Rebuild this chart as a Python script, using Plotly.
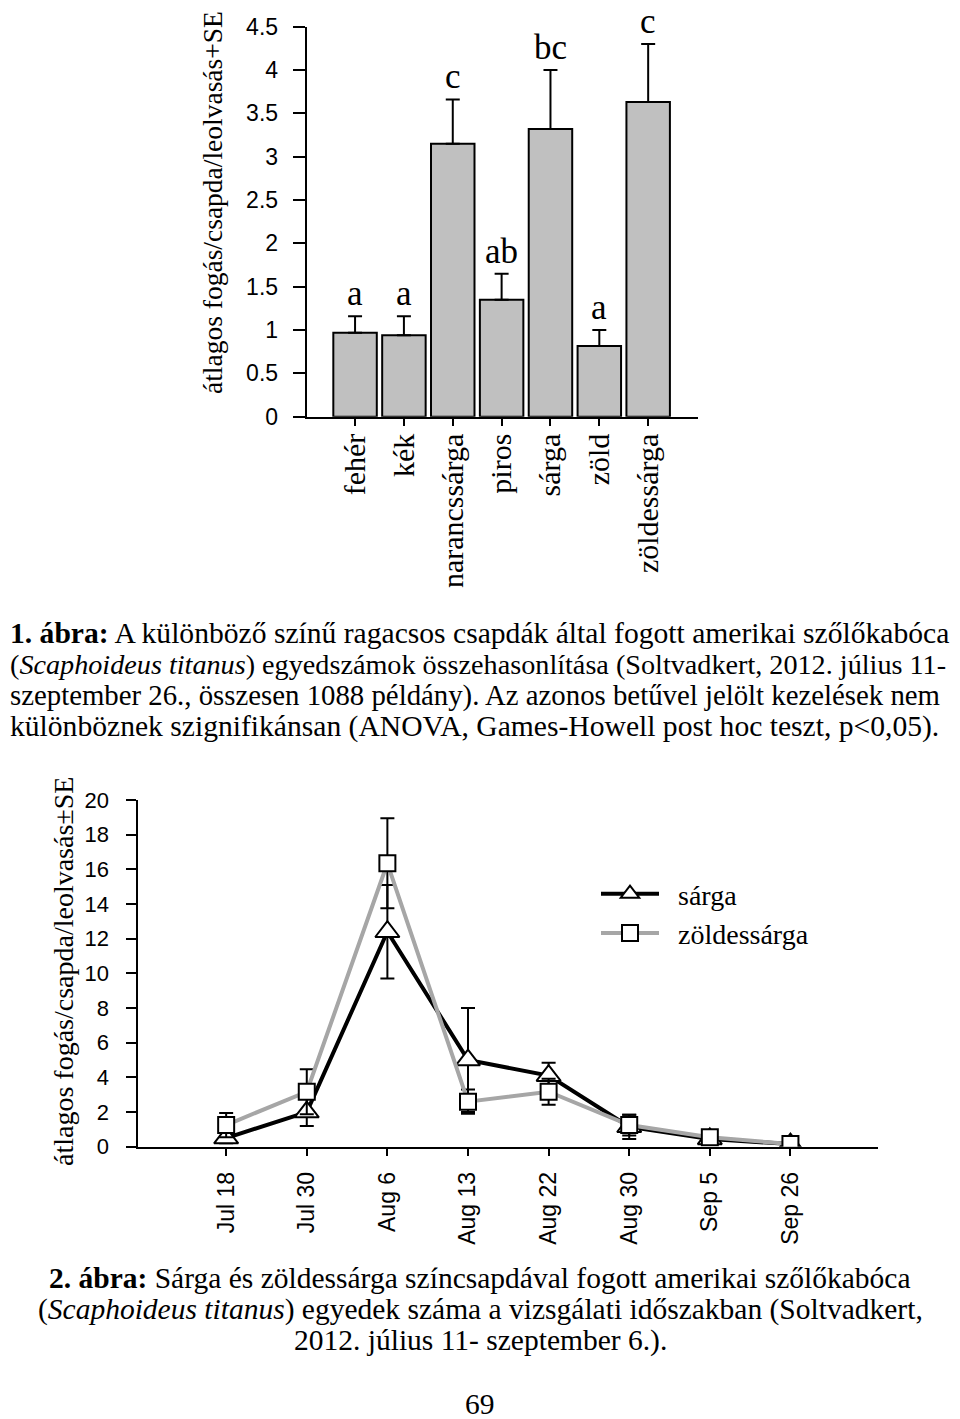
import plotly.graph_objects as go

# The page body adds an 8 px margin; the figure is sized to fit inside the window.
OFF = 8
W, H = 960 - OFF, 1419 - OFF

# ---------- data: figure 1 (bar chart) ----------
trap_colors = ["fehér", "kék", "narancssárga", "piros", "sárga", "zöld", "zöldessárga"]
bar_means = [0.97, 0.94, 3.15, 1.35, 3.32, 0.815, 3.63]
bar_se = [0.19, 0.22, 0.51, 0.30, 0.68, 0.185, 0.67]
sig_letters = ["a", "a", "c", "ab", "bc", "a", "c"]

# ---------- data: figure 2 (time series) ----------
dates = ["Jul 18", "Jul 30", "Aug 6", "Aug 13", "Aug 22", "Aug 30", "Sep 5", "Sep 26"]
sarga_mean = [0.5, 2.0, 12.4, 5.0, 4.1, 1.15, 0.45, 0.15]
sarga_se = [0.3, 0.8, 2.7, 3.0, 0.75, 0.7, 0.2, 0.1]
zold_mean = [1.25, 3.17, 16.35, 2.6, 3.17, 1.25, 0.55, 0.15]
zold_se = [0.7, 1.3, 2.6, 0.7, 0.75, 0.6, 0.2, 0.1]

SERIF = "Liberation Serif"
SANS = "Liberation Sans"
NB = "\u00a0"


def px_x(p):
    return (p - OFF) / W


def px_y(p):
    return 1 - (p - OFF) / H


fig = go.Figure()

fig.add_trace(go.Bar(
    x=trap_colors, y=bar_means, width=0.89,
    marker=dict(color="#c0c0c0", line=dict(color="black", width=2)),
    error_y=dict(type="data", array=bar_se, arrayminus=[0] * len(bar_se),
                 symmetric=False, color="black", thickness=2, width=7),
    xaxis="x", yaxis="y", showlegend=False,
))

fig.add_trace(go.Scatter(
    x=dates, y=sarga_mean, name=NB * 2 + "sárga", mode="lines+markers",
    line=dict(color="black", width=4),
    marker=dict(symbol="triangle-up", size=21, color="white",
                line=dict(color="black", width=2)),
    error_y=dict(type="data", array=sarga_se, color="black", thickness=2, width=7),
    xaxis="x2", yaxis="y2",
))
fig.add_trace(go.Scatter(
    x=dates, y=zold_mean, name=NB * 2 + "zöldessárga", mode="lines+markers",
    line=dict(color="#a6a6a6", width=4),
    marker=dict(symbol="square", size=16, color="white",
                line=dict(color="black", width=2)),
    error_y=dict(type="data", array=zold_se, color="black", thickness=2, width=7),
    xaxis="x2", yaxis="y2",
))

annotations = []
for c, m, s, l in zip(trap_colors, bar_means, bar_se, sig_letters):
    annotations.append(dict(x=c, y=m + s, xref="x", yref="y", text=l, showarrow=False,
                            yanchor="bottom", yshift=1,
                            font=dict(family=SERIF, size=35, color="black")))

# axis titles
annotations.append(dict(x=px_x(212), y=px_y(203), xref="paper", yref="paper",
                        xanchor="center", yanchor="middle",
                        text="átlagos fogás/csapda/leolvasás+SE", textangle=-90,
                        showarrow=False, font=dict(family=SERIF, size=27.5, color="black")))
annotations.append(dict(x=px_x(63), y=px_y(972), xref="paper", yref="paper",
                        xanchor="center", yanchor="middle",
                        text="átlagos fogás/csapda/leolvasás±SE", textangle=-90,
                        showarrow=False, font=dict(family=SERIF, size=28, color="black")))

cap1 = [
    "<b>1. ábra:</b> A különböző színű ragacsos csapdák által fogott amerikai szőlőkabóca",
    "(<i>Scaphoideus titanus</i>) egyedszámok összehasonlítása (Soltvadkert, 2012. július 11-",
    "szeptember 26., összesen 1088 példány). Az azonos betűvel jelölt kezelések nem",
    "különböznek szignifikánsan (ANOVA, Games-Howell post hoc teszt, p&lt;0,05).",
]
cap1_sizes = [29.6, 28.2, 28.8, 29.6]
for i, (t, fs) in enumerate(zip(cap1, cap1_sizes)):
    annotations.append(dict(x=px_x(8), y=px_y(633 + 31 * i), xref="paper", yref="paper",
                            text=t, showarrow=False, xanchor="left", yanchor="middle",
                            font=dict(family=SERIF, size=fs, color="black")))

cap2 = [
    "<b>2. ábra:</b> Sárga és zöldessárga színcsapdával fogott amerikai szőlőkabóca",
    "(<i>Scaphoideus titanus</i>) egyedek száma a vizsgálati időszakban (Soltvadkert,",
    "2012. július 11- szeptember 6.).",
]
for i, t in enumerate(cap2):
    annotations.append(dict(x=px_x(480), y=px_y(1278 + 31 * i), xref="paper", yref="paper",
                            text=t, showarrow=False, xanchor="center", yanchor="middle",
                            font=dict(family=SERIF, size=29.5, color="black")))
annotations.append(dict(x=px_x(480), y=px_y(1404), xref="paper", yref="paper", text="69",
                        showarrow=False, xanchor="center", yanchor="middle",
                        font=dict(family=SERIF, size=29.5, color="black")))

axis_common = dict(showline=True, linecolor="black", linewidth=2, showgrid=False,
                   zeroline=False, ticks="outside", tickcolor="black", tickwidth=2,
                   automargin=False)

fig.update_layout(
    width=W, height=H, margin=dict(l=0, r=0, t=0, b=0, autoexpand=False),
    paper_bgcolor="white", plot_bgcolor="white",
    xaxis=dict(domain=[px_x(306.7), px_x(698)], range=[-0.99, 7.02], anchor="y",
               ticklen=7, tickangle=-90, ticklabelstandoff=-4,
               tickfont=dict(family=SERIF, size=30, color="black"), **axis_common),
    yaxis=dict(domain=[px_y(416.7), px_y(26.7)], range=[0, 4.5], dtick=0.5, anchor="x",
               ticklen=12, ticklabelstandoff=10,
               tickfont=dict(family=SANS, size=23, color="black"), **axis_common),
    xaxis2=dict(domain=[px_x(138.3), px_x(878.3)], range=[-1.09, 8.09], anchor="y2",
                ticklen=7, tickangle=-90, ticklabelstandoff=7,
                tickfont=dict(family=SANS, size=23, color="black"), **axis_common),
    yaxis2=dict(domain=[px_y(1146.7), px_y(800)], range=[0, 20], dtick=2, anchor="x2",
                ticklen=10, ticklabelstandoff=13,
                tickfont=dict(family=SANS, size=22, color="black"), **axis_common),
    showlegend=True,
    legend=dict(x=px_x(596), y=px_y(869), xanchor="left", yanchor="top",
                font=dict(family=SERIF, size=28, color="black"),
                bgcolor="rgba(0,0,0,0)", itemwidth=58, tracegroupgap=0),
    annotations=annotations,
)

fig.write_html("out.html")
